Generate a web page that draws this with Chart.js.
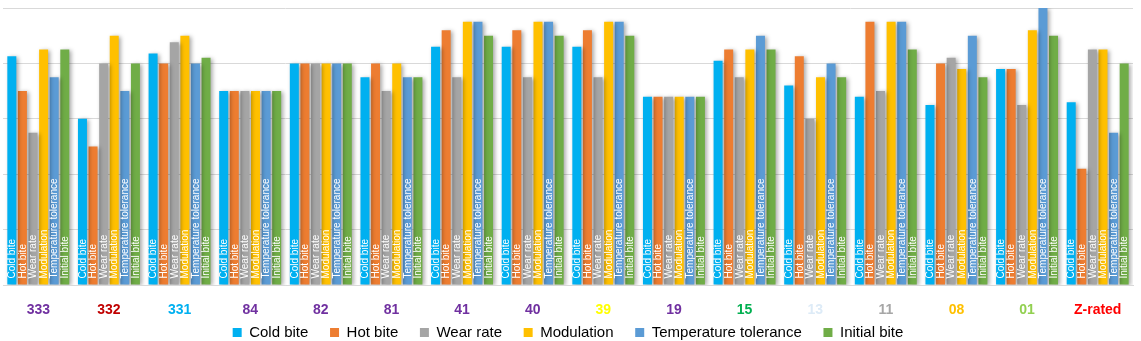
<!DOCTYPE html>
<html>
<head>
<meta charset="utf-8">
<script src="https://cdn.jsdelivr.net/npm/chart.js@4/dist/chart.umd.min.js"></script>
<style>
  html, body { margin: 0; padding: 0; background: #fff; }
  #wrap { width: 1141px; height: 341px; }
</style>
</head>
<body>
<div id="wrap"><canvas id="chart" width="1141" height="341"></canvas></div>
<script>
// pad compounds and their scores
const compounds = ['333','332','331','84','82','81','41','40','39','19','15','13','11','08','01','Z-rated'];
const compoundColors = ['#7030A0','#C00000','#00B0F0','#7030A0','#7030A0','#7030A0','#7030A0','#7030A0',
  '#FFFF00','#7030A0','#00B050','#DDEBF7','#A6A6A6','#FFC000','#92D050','#FF0000'];

const coldBite  = [4.13, 3.0, 4.18, 3.5, 4.0, 3.75, 4.3, 4.3, 4.3, 3.4, 4.05, 3.6, 3.4, 3.25, 3.9, 3.3];
const hotBite   = [3.5, 2.5, 4.0, 3.5, 4.0, 4.0, 4.6, 4.6, 4.6, 3.4, 4.25, 4.13, 4.75, 4.0, 3.9, 2.1];
const wearRate  = [2.75, 4.0, 4.38, 3.5, 4.0, 3.5, 3.75, 3.75, 3.75, 3.4, 3.75, 3.0, 3.5, 4.1, 3.25, 4.25];
const modulation = [4.25, 4.5, 4.5, 3.5, 4.0, 4.0, 4.75, 4.75, 4.75, 3.4, 4.25, 3.75, 4.75, 3.9, 4.6, 4.25];
const tempTolerance = [3.75, 3.5, 4.0, 3.5, 4.0, 3.75, 4.75, 4.75, 4.75, 3.4, 4.5, 4.0, 4.75, 4.5, 5.0, 2.75];
const initialBite = [4.25, 4.0, 4.1, 3.5, 4.0, 3.75, 4.5, 4.5, 4.5, 3.4, 4.25, 3.75, 4.25, 3.75, 4.5, 4.0];

const series = [
  { label: 'Cold bite', data: coldBite, color: '#00B0F0' },
  { label: 'Hot bite', data: hotBite, color: '#ED7D31' },
  { label: 'Wear rate', data: wearRate, color: '#A5A5A5' },
  { label: 'Modulation', data: modulation, color: '#FFC000' },
  { label: 'Temperature tolerance', data: tempTolerance, color: '#5B9BD5' },
  { label: 'Initial bite', data: initialBite, color: '#70AD47' }
];

// soft drop shadow under the bars, then the series name written up each bar
const barDecor = {
  id: 'barDecor',
  afterInit(chart) {
    // keep the legend strip short so it sits close to the bottom edge
    const fit = chart.legend.fit;
    chart.legend.fit = function () {
      fit.call(this);
      this.height = 21;
    };
  },
  beforeDatasetsDraw(chart) {
    const ctx = chart.ctx;
    ctx.save();
    ctx.shadowColor = 'rgba(0,0,0,0.35)';
    ctx.shadowBlur = 4;
    ctx.shadowOffsetX = 2;
    ctx.shadowOffsetY = 1;
  },
  afterDatasetsDraw(chart) {
    const ctx = chart.ctx;
    ctx.restore();
    ctx.save();
    ctx.font = '10px "Liberation Sans", Arial, sans-serif';
    ctx.fillStyle = '#ffffff';
    ctx.textAlign = 'left';
    ctx.textBaseline = 'middle';
    chart.data.datasets.forEach((ds, i) => {
      chart.getDatasetMeta(i).data.forEach(bar => {
        ctx.save();
        ctx.translate(bar.x, bar.base - 6);
        ctx.rotate(-Math.PI / 2);
        ctx.fillText(ds.label, 0, 0.5);
        ctx.restore();
      });
    });
    ctx.restore();
  }
};

new Chart(document.getElementById('chart'), {
  type: 'bar',
  data: {
    labels: compounds,
    datasets: series.map(s => ({
      label: s.label,
      data: s.data,
      backgroundColor: s.color,
      borderWidth: 0,
      categoryPercentage: 0.9,
      barPercentage: 0.85
    }))
  },
  options: {
    responsive: false,
    animation: false,
    layout: { padding: { left: 3, right: 8, top: 8, bottom: 0 } },
    plugins: {
      tooltip: { enabled: false },
      legend: {
        position: 'bottom',
        labels: {
          boxWidth: 9,
          boxHeight: 9,
          padding: 5,
          color: '#000',
          font: { family: '"Liberation Sans", Arial, sans-serif', size: 15 },
          generateLabels(chart) {
            const items = Chart.defaults.plugins.legend.labels.generateLabels(chart);
            // wider gap between entries
            items.forEach((it, i) => { if (i < items.length - 1) it.text += '    '; });
            return items;
          }
        }
      }
    },
    scales: {
      x: {
        grid: { display: false, drawTicks: false },
        border: { color: '#D9D9D9', width: 1 },
        afterFit(scale) { scale.height = 35; },
        ticks: {
          padding: 17,
          color: compoundColors,
          font: { family: '"Liberation Sans", Arial, sans-serif', size: 14, weight: 'bold' },
          maxRotation: 0
        }
      },
      y: {
        min: 0,
        max: 5,
        ticks: { display: false, stepSize: 1 },
        border: { display: false },
        grid: { color: '#D9D9D9', drawTicks: false }
      }
    }
  },
  plugins: [barDecor]
});
</script>
</body>
</html>
